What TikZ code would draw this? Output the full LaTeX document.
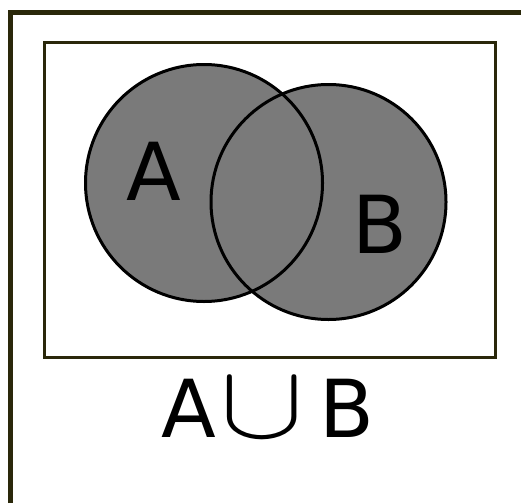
\documentclass[tikz,border=0pt]{standalone}
\usepackage{fontspec}
\setmainfont{DejaVu Sans}
\definecolor{frameol}{RGB}{42,40,10}
\definecolor{setgray}{RGB}{122,122,122}
\begin{document}
\begin{tikzpicture}[x=1pt,y=-1pt,
  frameline/.style={draw=frameol,line width=5pt},
  boxline/.style={draw=frameol,line width=3pt},
  setfill/.style={fill=setgray},
  setedge/.style={draw=black,line width=3pt},
  biglabel/.style={font=\fontsize{80}{80}\selectfont,inner sep=0pt}]
\useasboundingbox (0,0) rectangle (521,503);
\fill[white] (0,0) rectangle (521,503);
% outer frame (top and left)
\draw[frameline] (10.5,503) -- (10.5,12.5) -- (521,12.5);
% universe box
\draw[boxline] (44.5,42.5) rectangle (495,357.5);
% circles
\coordinate (ca) at (204,183);
\coordinate (cb) at (328.5,202);
\fill[setfill] (ca) circle (118.5);
\fill[setfill] (cb) circle (117.5);
\draw[setedge] (ca) circle (118.5);
\draw[setedge] (cb) circle (117.5);
% labels
\node[biglabel,anchor=base] (la) at (153.5,200) {A};
\node[biglabel,anchor=base] (lb) at (380,253) {B};
\node[biglabel,anchor=base west] (union) at (161,437) {A\hspace{5pt}\scalebox{12.5}[10.5]{\normalsize$\cup$}\hspace{15pt}B};
\end{tikzpicture}
\end{document}
